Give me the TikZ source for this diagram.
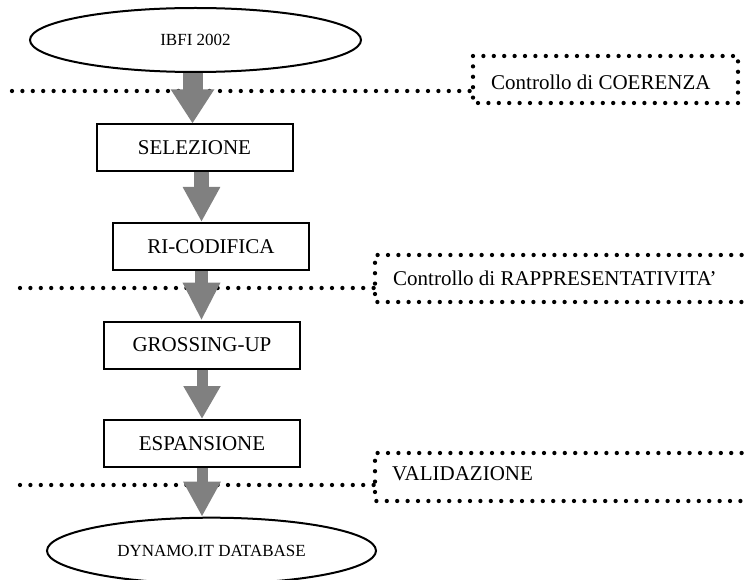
\documentclass[tikz,border=0pt]{standalone}
\usepackage{fontspec}
\setmainfont{Liberation Serif}
\usetikzlibrary{shapes.geometric,arrows.meta}
\definecolor{arrowgray}{HTML}{808080}
\begin{document}
\begin{tikzpicture}[x=1pt,y=-1pt,
  box/.style={draw, line width=2pt, rectangle, minimum width=196pt, minimum height=47pt, inner sep=0pt, font=\fontsize{21}{25}\selectfont},
  oval/.style={draw, line width=2pt, ellipse, inner sep=0pt, font=\fontsize{17}{20}\selectfont},
  flowarrow/.style={draw=arrowgray, color=arrowgray, line width=12pt},
  dotline/.style={line width=4.3pt, line cap=round, dash pattern=on 0pt off 10.4pt},
  sidelabel/.style={font=\fontsize{21}{25}\selectfont, inner sep=0pt, anchor=west}]
\clip (0,0) rectangle (747,580);
% dotted separators and check boxes
\coordinate (l1s) at (12,91);
\coordinate (c1nw) at (473,56);
\coordinate (c1se) at (738,103);
\draw[dotline] (l1s) -- (c1nw |- l1s);
\draw[dotline] (c1nw) rectangle (c1se);
\node[sidelabel] (coe) at (491,82) {Controllo di COERENZA};

\coordinate (l2s) at (20,288);
\coordinate (b2l) at (375,288);
\draw[dotline] (l2s) -- (b2l);
\draw[dotline] (752,255) -- (375,255) -- (375,302) -- (752,302);
\node[sidelabel] (rap) at (393,278) {Controllo di RAPPRESENTATIVITA’};

\coordinate (l3s) at (20,485);
\coordinate (b3l) at (375,485);
\draw[dotline] (l3s) -- (b3l);
\draw[dotline] (752,453) -- (375,453) -- (375,501) -- (752,501);
\node[sidelabel] (val) at (392,474) {VALIDAZIONE};

% flow nodes
\node[oval, minimum width=331pt, minimum height=64pt] (ibfi) at (195.5,40) {IBFI 2002};
\node[box] (sel) at (194.5,148) {SELEZIONE};
\node[box] (ric) at (211,246.5) {RI-CODIFICA};
\node[box] (gro) at (202,345) {GROSSING-UP};
\node[box] (esp) at (202,443.5) {ESPANSIONE};
\node[oval, minimum width=329pt, minimum height=66pt] (dyn) at (211.5,550.7) {DYNAMO.IT DATABASE};

% block arrows
\coordinate (a1) at (192.5,0);
\coordinate (a2) at (201.5,0);
\coordinate (a3) at (201.5,0);
\coordinate (a4) at (202,0);
\coordinate (a5) at (202,0);
\draw[flowarrow, line width=20pt, -{Triangle[width=41pt,length=34pt]}] (ibfi.south -| a1) -- (sel.north -| a1);
\draw[flowarrow, line width=15pt, -{Triangle[width=35pt,length=35pt]}] (sel.south -| a2) -- (ric.north -| a2);
\draw[flowarrow, line width=13pt, -{Triangle[width=35pt,length=38pt]}] (ric.south -| a3) -- (gro.north -| a3);
\draw[flowarrow, line width=11pt, -{Triangle[width=35pt,length=33pt]}] (gro.south -| a4) -- (esp.north -| a4);
\draw[flowarrow, line width=11pt, -{Triangle[width=35pt,length=35pt]}] (esp.south -| a5) -- (dyn.north -| a5);
\end{tikzpicture}
\end{document}
